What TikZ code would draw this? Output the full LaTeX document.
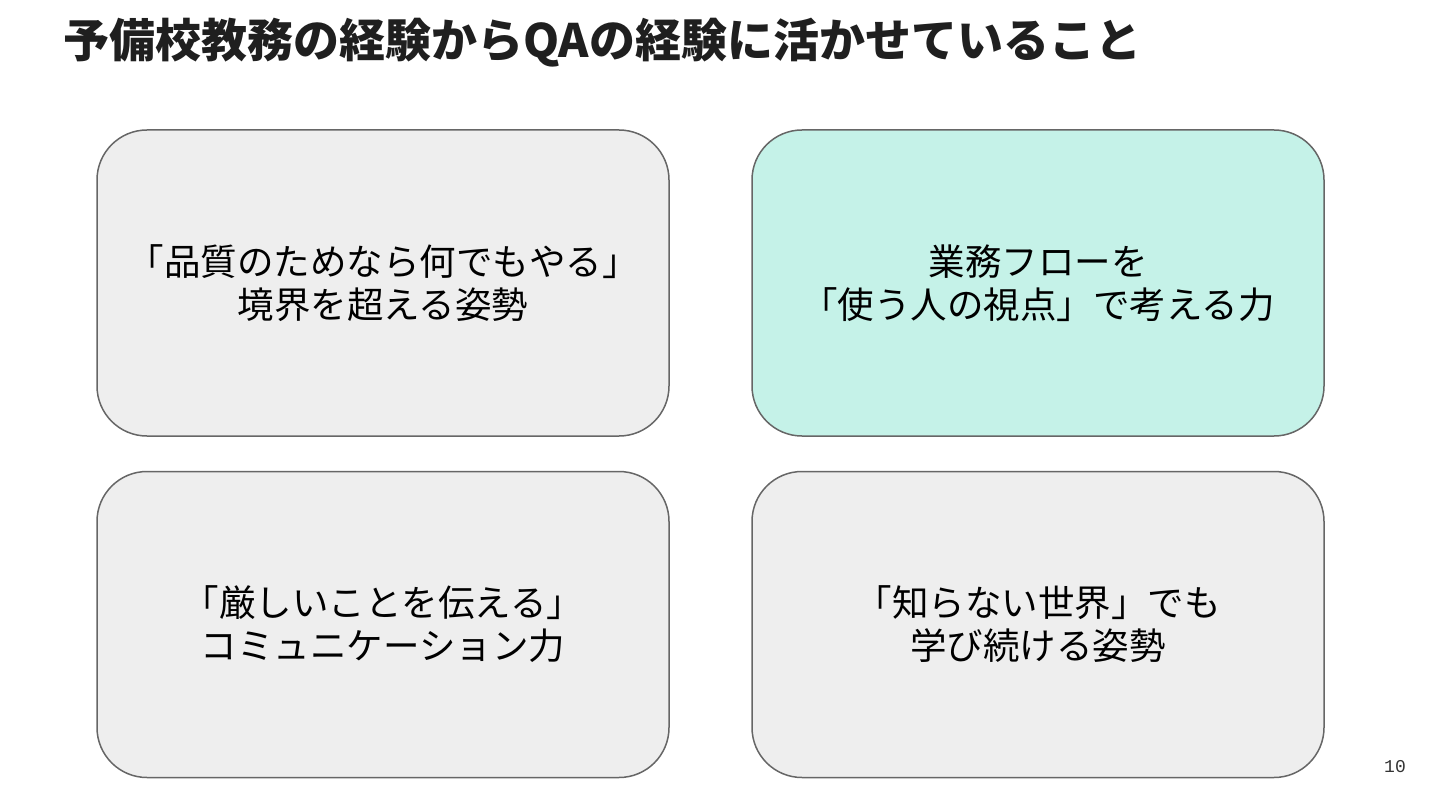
\documentclass[tikz,border=0pt]{standalone}
\usepackage{fontspec}
\setmonofont{Liberation Mono}
\newfontfamily\cjk{Noto Sans CJK JP}
\definecolor{boxgray}{HTML}{EEEEEE}
\definecolor{boxmint}{HTML}{C5F2E8}
\definecolor{edgegray}{HTML}{666666}
\definecolor{inkgray}{HTML}{1F1F1F}
\tikzset{
  card/.style={draw=edgegray, line width=1.5pt, rounded corners=50pt,
    minimum width=572pt, minimum height=306pt, align=center,
    font=\cjk\fontsize{36.5}{43}\selectfont, inner sep=0pt},
}
\begin{document}
\begin{tikzpicture}[x=1pt,y=-1pt]
                    % Page
                    \useasboundingbox[fill=white] (0,0) rectangle (1440,810);
                    % Title
                    \node[anchor=west, inner sep=0pt, text=inkgray, font=\cjk\bfseries\fontsize{46}{46}\selectfont] (title) at (63,43) {予備校教務の経験からQAの経験に活かせていること};
                    % Top row
                    \node[card, fill=boxgray] (quality) at (383,283) {「品質のためなら何でもやる」\\境界を超える姿勢};
                    \node[card, fill=boxmint] (flow) at (1038,283) {業務フローを\\「使う人の視点」で考える力};
                    % Bottom row
                    \node[card, fill=boxgray] (comm) at (383,624.5) {「厳しいことを伝える」\\コミュニケーション力};
                    \node[card, fill=boxgray] (learn) at (1038,624.5) {「知らない世界」でも\\学び続ける姿勢};
                    % Page number
                    \node[font=\ttfamily\fontsize{18}{18}\selectfont, text=black!80] (page) at (1395,767) {10};
                \end{tikzpicture}
\end{document}
